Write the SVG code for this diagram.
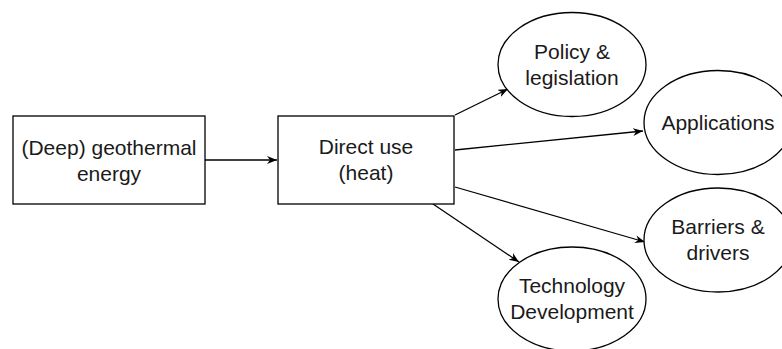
<svg xmlns="http://www.w3.org/2000/svg" width="782" height="349" viewBox="0 0 782 349">
  <style>
    .box { fill: #ffffff; stroke: #000000; stroke-width: 1.3; }
    .oval { fill: #ffffff; stroke: #000000; stroke-width: 1.3; }
    .lbl { font-family: "Liberation Sans", Arial, Helvetica, sans-serif; font-size: 21px; fill: #1a1a1a; text-anchor: middle; }
    .edge { fill: none; stroke: #000000; stroke-width: 1.3; marker-end: url(#arrow); }
  </style>
  <defs>
    <marker id="arrow" markerUnits="userSpaceOnUse" markerWidth="11" markerHeight="9" refX="10" refY="4" orient="auto">
      <path d="M0,0 L10,4 L0,8 L3,4 z" fill="#000000"/>
    </marker>
  </defs>
  <rect width="782" height="349" fill="#ffffff"/>

  <g id="connectors">
    <line class="edge" x1="205" y1="160" x2="277" y2="160"/>
    <line class="edge" x1="455" y1="115" x2="508" y2="89"/>
    <line class="edge" x1="455" y1="150" x2="643" y2="131"/>
    <line class="edge" x1="455" y1="187" x2="645" y2="242"/>
    <line class="edge" x1="433" y1="204" x2="519" y2="262"/>
  </g>

  <g id="geothermal">
    <rect class="box" x="13" y="116" width="192" height="88"/>
    <text class="lbl" x="109" y="155">(Deep) geothermal</text>
    <text class="lbl" x="109" y="181">energy</text>
  </g>

  <g id="direct-use">
    <rect class="box" x="278" y="116" width="176" height="88"/>
    <text class="lbl" x="366" y="154">Direct use</text>
    <text class="lbl" x="366" y="180">(heat)</text>
  </g>

  <g id="policy">
    <ellipse class="oval" cx="572" cy="64.5" rx="74" ry="52"/>
    <text class="lbl" x="572" y="59">Policy &amp;</text>
    <text class="lbl" x="572" y="85">legislation</text>
  </g>

  <g id="applications">
    <ellipse class="oval" cx="718" cy="122.5" rx="74" ry="52"/>
    <text class="lbl" x="718" y="130">Applications</text>
  </g>

  <g id="barriers">
    <ellipse class="oval" cx="718" cy="240" rx="74" ry="52"/>
    <text class="lbl" x="718" y="234">Barriers &amp;</text>
    <text class="lbl" x="718" y="260">drivers</text>
  </g>

  <g id="technology">
    <ellipse class="oval" cx="572" cy="299" rx="74" ry="52"/>
    <text class="lbl" x="572" y="293">Technology</text>
    <text class="lbl" x="572" y="319">Development</text>
  </g>
</svg>
